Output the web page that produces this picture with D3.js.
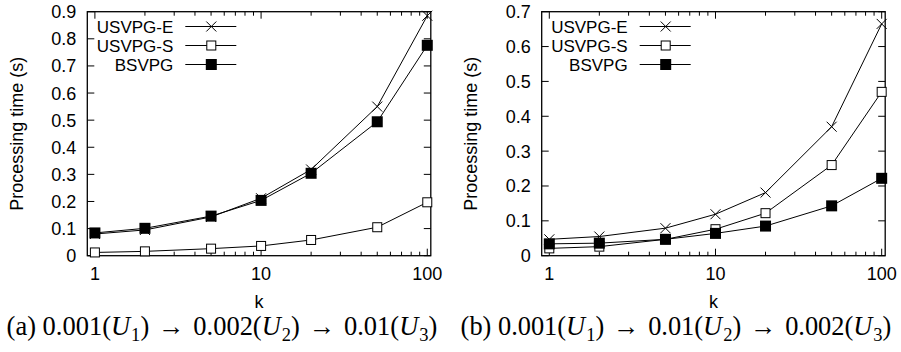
<!DOCTYPE html>
<html>
<head>
<meta charset="utf-8">
<script src="https://cdn.jsdelivr.net/npm/d3@7"></script>
<style>
  html, body { margin: 0; padding: 0; background: #fff; }
  svg text { font-family: "Liberation Sans", Arial, Helvetica, sans-serif; fill: #000; }
  svg text.caption { font-family: "Liberation Serif", "DejaVu Serif", serif; }
</style>
</head>
<body>
<svg id="chart" width="901" height="352"></svg>
<script>
// k values shared by both panels
const kValues = [1, 2, 5, 10, 20, 50, 100];

// Panel (a): 0.001(U1) -> 0.002(U2) -> 0.01(U3)
const aUsvpgE = [0.080, 0.095, 0.143, 0.212, 0.318, 0.550, 0.885];
const aUsvpgS = [0.012, 0.016, 0.026, 0.036, 0.058, 0.105, 0.197];
const aBsvpg  = [0.084, 0.101, 0.146, 0.204, 0.304, 0.494, 0.776];

// Panel (b): 0.001(U1) -> 0.01(U2) -> 0.002(U3)
const bUsvpgE = [0.047, 0.055, 0.079, 0.119, 0.181, 0.370, 0.665];
const bUsvpgS = [0.021, 0.026, 0.047, 0.076, 0.122, 0.260, 0.470];
const bBsvpg  = [0.034, 0.036, 0.047, 0.064, 0.085, 0.143, 0.222];

const seriesNames = ["USVPG-E", "USVPG-S", "BSVPG"];
const markerKinds = ["cross", "openSquare", "filledSquare"];

const xTickLabels = ["1", "10", "100"];
const aYTicks = [0, 0.1, 0.2, 0.3, 0.4, 0.5, 0.6, 0.7, 0.8, 0.9];
const bYTicks = [0, 0.1, 0.2, 0.3, 0.4, 0.5, 0.6, 0.7];

const panels = [
  { left: 87.3, yMax: 0.9, yTicks: aYTicks, series: [aUsvpgE, aUsvpgS, aBsvpg],
    caption: { tag: "(a)", rates: ["0.001", "0.002", "0.01"], centre: 222 } },
  { left: 541.7, yMax: 0.7, yTicks: bYTicks, series: [bUsvpgE, bUsvpgS, bBsvpg],
    caption: { tag: "(b)", rates: ["0.001", "0.01", "0.002"], centre: 676 } }
];

const svg = d3.select("#chart");
const plotW = 343.5, plotTop = 11.7, plotBottom = 255.7;
const fontSize = 18;
const legendFont = 17;
const captionFont = 26;
const captionWidth = 428;

function drawMarker(g, kind, x, y) {
  if (kind === "cross") {
    const s = 5;
    g.append("path")
      .attr("d", `M${x - s},${y - s}L${x + s},${y + s}M${x - s},${y + s}L${x + s},${y - s}`)
      .attr("stroke", "#000").attr("stroke-width", 1).attr("fill", "none");
  } else if (kind === "openSquare") {
    const s = 4.5;
    g.append("rect").attr("x", x - s).attr("y", y - s).attr("width", 2 * s).attr("height", 2 * s)
      .attr("fill", "#fff").attr("stroke", "#000").attr("stroke-width", 1);
  } else {
    const s = 5.5;
    g.append("rect").attr("x", x - s).attr("y", y - s).attr("width", 2 * s).attr("height", 2 * s)
      .attr("fill", "#000");
  }
}

panels.forEach(p => {
  const x = d3.scaleLog().domain([0.9, 105]).range([p.left, p.left + plotW]);
  const y = d3.scaleLinear().domain([0, p.yMax]).range([plotBottom, plotTop]);
  const g = svg.append("g");

  // frame
  g.append("rect").attr("x", p.left).attr("y", plotTop).attr("width", plotW).attr("height", plotBottom - plotTop)
    .attr("fill", "none").attr("stroke", "#000").attr("stroke-width", 1.3);

  // y ticks (inward, mirrored) and labels
  p.yTicks.forEach(v => {
    const yy = y(v);
    g.append("line").attr("x1", p.left).attr("x2", p.left + 7).attr("y1", yy).attr("y2", yy)
      .attr("stroke", "#000");
    g.append("line").attr("x1", p.left + plotW).attr("x2", p.left + plotW - 7).attr("y1", yy).attr("y2", yy)
      .attr("stroke", "#000");
    g.append("text").attr("x", p.left - 11).attr("y", yy).attr("dy", "0.36em")
      .attr("text-anchor", "end").attr("font-size", fontSize).text(d3.format("")(v));
  });

  // x ticks: majors at decades, minors at 2..9 within each decade
  const majors = xTickLabels.map(Number);
  const minors = [];
  [1, 10].forEach(d => { for (let m = 2; m <= 9; m++) minors.push(d * m); });
  majors.forEach((v, i) => {
    const xx = x(v);
    g.append("line").attr("x1", xx).attr("x2", xx).attr("y1", plotBottom).attr("y2", plotBottom - 7).attr("stroke", "#000");
    g.append("line").attr("x1", xx).attr("x2", xx).attr("y1", plotTop).attr("y2", plotTop + 7).attr("stroke", "#000");
    g.append("text").attr("x", xx).attr("y", 280).attr("text-anchor", "middle")
      .attr("font-size", fontSize).text(xTickLabels[i]);
  });
  minors.forEach(v => {
    const xx = x(v);
    g.append("line").attr("x1", xx).attr("x2", xx).attr("y1", plotBottom).attr("y2", plotBottom - 4).attr("stroke", "#000");
    g.append("line").attr("x1", xx).attr("x2", xx).attr("y1", plotTop).attr("y2", plotTop + 4).attr("stroke", "#000");
  });

  // axis titles
  const cx = p.left + plotW / 2;
  g.append("text").attr("x", cx).attr("y", 308).attr("text-anchor", "middle")
    .attr("font-size", fontSize).text("k");
  g.append("text")
    .attr("transform", `translate(${p.left - 71},${(plotTop + plotBottom) / 2}) rotate(-90)`)
    .attr("text-anchor", "middle").attr("dy", "0.36em").attr("font-size", fontSize)
    .text("Processing time (s)");

  // series lines and markers
  const line = d3.line().x((d, i) => x(kValues[i])).y(d => y(d));
  p.series.forEach(vals => {
    g.append("path").datum(vals).attr("d", line)
      .attr("fill", "none").attr("stroke", "#000").attr("stroke-width", 1);
  });
  p.series.forEach((vals, si) => {
    vals.forEach((v, i) => drawMarker(g, markerKinds[si], x(kValues[i]), y(v)));
  });

  // legend
  const legendRows = [26.5, 45.5, 64.5];
  seriesNames.forEach((name, si) => {
    const ly = legendRows[si];
    g.append("text").attr("x", p.left + 86).attr("y", ly).attr("dy", "0.36em")
      .attr("text-anchor", "end").attr("font-size", legendFont).text(name);
    g.append("line").attr("x1", p.left + 98).attr("x2", p.left + 149).attr("y1", ly).attr("y2", ly)
      .attr("stroke", "#000");
    drawMarker(g, markerKinds[si], p.left + 124, ly);
  });

  // caption: "(x) r1(U1) -> r2(U2) -> r3(U3)"
  const c = p.caption;
  const t = g.append("text").attr("class", "caption").attr("x", c.centre).attr("y", 335)
    .attr("text-anchor", "middle").attr("font-size", captionFont);
  const sub = 0.7 * captionFont, drop = 0.22 * captionFont;
  t.append("tspan").text(c.tag + " " + c.rates[0] + "(");
  c.rates.forEach((r, i) => {
    if (i > 0) {
      t.append("tspan").attr("dy", -drop).text(")\u2004\u2192\u2004" + r + "(");
    }
    t.append("tspan").attr("font-style", "italic").text("U");
    t.append("tspan").attr("font-size", sub).attr("dy", drop).attr("dx", 1).text(String(i + 1));
  });
  t.append("tspan").attr("dy", -drop).text(")");
  // size the caption so it spans its sub-figure's width
  const w = t.node().getComputedTextLength();
  if (w > 0) {
    const k = captionWidth / w;
    t.attr("font-size", captionFont * k);
    t.selectAll("tspan").each(function () {
      const el = d3.select(this);
      const fs = el.attr("font-size");
      if (fs) el.attr("font-size", +fs * k);
      const dy = el.attr("dy");
      if (dy) el.attr("dy", +dy * k);
    });
  }
});
</script>
</body>
</html>
